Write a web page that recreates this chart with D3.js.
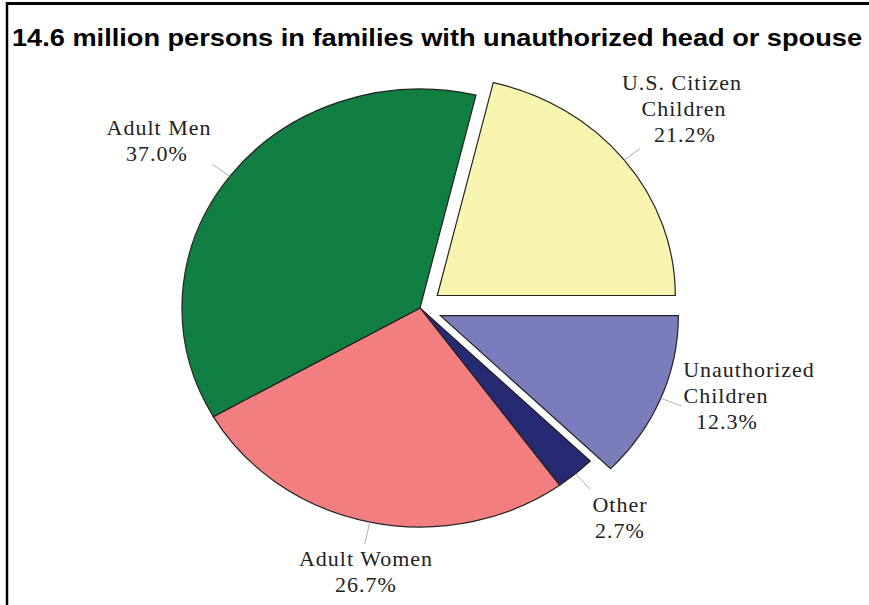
<!DOCTYPE html>
<html>
<head>
<meta charset="utf-8">
<script src="https://cdn.jsdelivr.net/npm/d3@7"></script>
<style>
  body { margin: 0; background: #fff; }
  svg { display: block; }
</style>
</head>
<body>
<div id="chart"></div>
<script>
// ---- data ----
var categories = ["U.S. Citizen Children", "Unauthorized Children", "Other", "Adult Women", "Adult Men"];
var shares = [21.2, 12.3, 2.7, 26.7, 37.0];
var labelLines = [["U.S. Citizen", "Children"], ["Unauthorized", "Children"], ["Other"], ["Adult Women"], ["Adult Men"]];
var exploded = [true, true, false, false, false];
var colors = ["#f8f5b0", "#7a7dbb", "#262a72", "#f37e80", "#117f41"];

var width = 869, height = 605;
var cx = 420, cy = 308;
var rx = 238, ry = 219;
var yScale = ry / rx;
var explodeDist = 22;

var svg = d3.select("#chart").append("svg")
  .attr("width", width)
  .attr("height", height);

svg.append("rect")
  .attr("width", width)
  .attr("height", height)
  .attr("fill", "#fff");

// frame: only top and left edges visible
svg.append("line")
  .attr("x1", 6).attr("x2", width).attr("y1", 3.5).attr("y2", 3.5)
  .attr("stroke", "#000").attr("stroke-width", 3);
svg.append("line")
  .attr("x1", 7).attr("x2", 7).attr("y1", 2).attr("y2", height)
  .attr("stroke", "#000").attr("stroke-width", 2.5);

// title is stretched wide in the original
svg.append("text")
  .attr("x", 12)
  .attr("y", 46)
  .attr("font-family", "Liberation Sans, Arial, sans-serif")
  .attr("font-weight", "bold")
  .attr("font-size", 23)
  .attr("textLength", 850)
  .attr("lengthAdjust", "spacingAndGlyphs")
  .attr("fill", "#000")
  .text("14.6 million persons in families with unauthorized head or spouse");

// ---- pie ----
var total = d3.sum(shares);
var start = Math.PI / 2 - shares[0] / total * 2 * Math.PI;

var pie = d3.pie()
  .sort(null)
  .value(function(d) { return d; })
  .startAngle(start)
  .endAngle(start + 2 * Math.PI);

var arcs = pie(shares);
var arc = d3.arc().innerRadius(0).outerRadius(rx);

function midAngle(d) { return (d.startAngle + d.endAngle) / 2; }

var g = svg.append("g")
  .attr("transform", "translate(" + cx + "," + cy + ") scale(1," + yScale + ")");

g.selectAll("path")
  .data(arcs)
  .enter().append("path")
  .attr("d", arc)
  .attr("transform", function(d, i) {
    if (!exploded[i]) return null;
    var a = midAngle(d);
    return "translate(" + (Math.sin(a) * explodeDist) + "," + (-Math.cos(a) * explodeDist) + ")";
  })
  .attr("fill", function(d, i) { return colors[i]; })
  .attr("stroke", "#222")
  .attr("stroke-width", 1.2)
  .attr("vector-effect", "non-scaling-stroke");

// ---- leader lines ----
function edgePoint(d, i, extra) {
  var a = midAngle(d);
  var r = rx + (exploded[i] ? explodeDist : 0) + extra;
  return [cx + Math.sin(a) * r, cy - Math.cos(a) * r * yScale];
}

var leaderLen = [20, 22, 22, 24, 22];

svg.selectAll("line.leader")
  .data(arcs)
  .enter().append("line")
  .attr("class", "leader")
  .attr("x1", function(d, i) { return edgePoint(d, i, 0)[0]; })
  .attr("y1", function(d, i) { return edgePoint(d, i, 0)[1]; })
  .attr("x2", function(d, i) { return edgePoint(d, i, leaderLen[i])[0]; })
  .attr("y2", function(d, i) { return edgePoint(d, i, leaderLen[i])[1]; })
  .attr("stroke", "#b0b0b0")
  .attr("stroke-width", 1);

// ---- labels ----
// centre x of each label line, and first baseline y
var labelX = [[682, 684, 685], [749, 726, 727], [620, 620], [366, 366], [159, 157]];
var labelY = [90, 377, 512, 566, 135];
var lineGap = 26;

arcs.forEach(function(d, i) {
  var lines = labelLines[i].concat([d3.format(".1f")(shares[i]) + "%"]);
  var t = svg.append("text")
    .attr("font-family", "Liberation Serif, Times New Roman, serif")
    .attr("font-size", 22)
    .attr("letter-spacing", 1)
    .attr("fill", "#222")
    .attr("text-anchor", "middle");
  lines.forEach(function(s, k) {
    t.append("tspan")
      .attr("x", labelX[i][k])
      .attr("y", labelY[i] + k * lineGap)
      .text(s);
  });
});
</script>
</body>
</html>
